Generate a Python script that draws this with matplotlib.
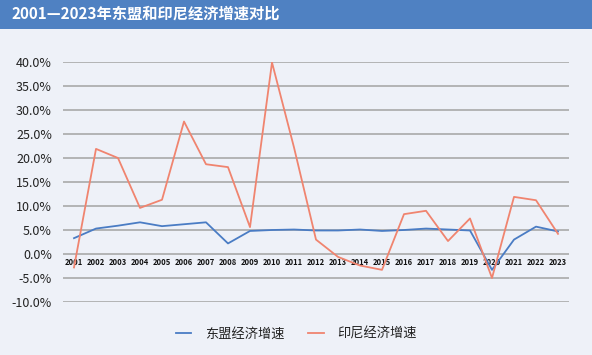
import matplotlib
matplotlib.use("Agg")
import matplotlib.pyplot as plt
from matplotlib.ticker import FuncFormatter
from matplotlib.patches import Rectangle

plt.rcParams['font.family'] = ['Noto Sans CJK SC', 'DejaVu Sans']

years = [str(y) for y in range(2001, 2024)]
asean = [3.3, 5.3, 5.9, 6.6, 5.8, 6.2, 6.6, 2.2, 4.8, 5.0, 5.1, 4.9, 4.9, 5.1,
         4.8, 5.0, 5.3, 5.1, 4.9, -3.3, 3.0, 5.7, 4.7]
indonesia = [-2.8, 21.9, 20.0, 9.6, 11.3, 27.6, 18.7, 18.1, 5.6, 39.9, 22.2, 3.0,
             -0.6, -2.4, -3.3, 8.3, 9.0, 2.7, 7.4, -5.0, 11.9, 11.2, 4.2]
series_names = ['东盟经济增速', '印尼经济增速']
title = '2001—2023年东盟和印尼经济增速对比'

bg = '#EEF1F8'
band = '#4F81C2'
blue = '#4A7CC4'
red = '#F0846F'

fig = plt.figure(figsize=(5.92, 3.55), dpi=100, facecolor=bg)

# title band
fig.patches.append(Rectangle((0, 1 - 28.5 / 355), 1, 28.5 / 355, transform=fig.transFigure,
                             facecolor=band, edgecolor='none'))
fig.text(12 / 592, 1 - 14 / 355, title, color='white', fontsize=11, fontweight='bold',
         va='center', ha='left')

ax = fig.add_axes([63 / 592, 1 - 302 / 355, 506 / 592, 240 / 355])
ax.set_facecolor(bg)
# category labels sit on the zero line (spine move resets ticks, so do it first)
ax.spines['bottom'].set_position(('data', 0))

x = range(len(years))
ax.plot(x, asean, color=blue, lw=1.3, label=series_names[0], zorder=3)
ax.plot(x, indonesia, color=red, lw=1.3, label=series_names[1], zorder=3)

ax.set_xlim(-0.5, len(years) - 0.5)
ax.set_ylim(-10, 40)
ax.set_yticks(range(-10, 41, 5))
ax.yaxis.set_major_formatter(FuncFormatter(lambda v, p: f'{v:.1f}%'))
ax.grid(axis='y', color='#A9A9A9', lw=1.2, zorder=1)
ax.tick_params(axis='y', length=0, pad=8, labelsize=9, labelcolor='#222222')

ax.set_xticks(list(x))
ax.set_xticklabels(years)
ax.tick_params(axis='x', length=0, pad=3, labelsize=5.5, labelcolor='#111111')
for lab in ax.get_xticklabels():
    lab.set_fontweight('bold')
for s in ax.spines.values():
    s.set_visible(False)

fig.legend(loc='center', bbox_to_anchor=(0.5, 1 - 334 / 355), ncol=2, frameon=False,
           fontsize=9.5, handlelength=1.2, columnspacing=1.8, handletextpad=1.0,
           labelcolor='#222222')

fig.savefig('out.png', dpi=100, facecolor=bg)
